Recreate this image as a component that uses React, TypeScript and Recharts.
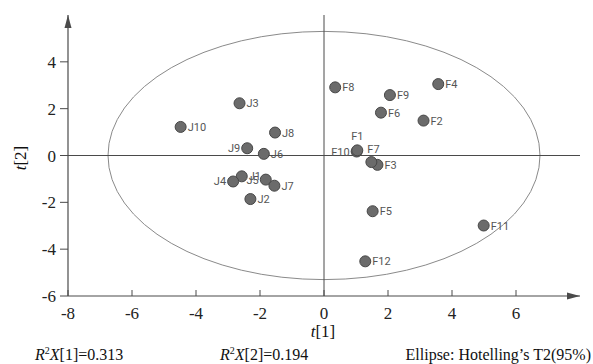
import React from 'react';
import {
    ScatterChart,
    Scatter,
    XAxis,
    YAxis,
    ReferenceLine,
    ReferenceArea,
    ReferenceDot,
    Customized,
} from 'recharts';

// score plot data
const sampleNames = ['J1', 'J2', 'J3', 'J4', 'J5', 'J6', 'J7', 'J8', 'J9', 'J10',
    'F10', 'F1', 'F2', 'F3', 'F4', 'F5', 'F6', 'F7', 'F8', 'F9', 'F11', 'F12'];
const t1Scores = [-2.57, -2.30, -2.64, -2.84, -1.82, -1.88, -1.55, -1.53, -2.40, -4.48,
    1.02, 1.04, 3.11, 1.67, 3.57, 1.52, 1.78, 1.48, 0.35, 2.06, 4.99, 1.29];
const t2Scores = [-0.89, -1.86, 2.23, -1.11, -1.03, 0.07, -1.29, 0.98, 0.31, 1.22,
    0.17, 0.22, 1.49, -0.40, 3.05, -2.38, 1.83, -0.28, 2.91, 2.58, -2.99, -4.52];

const xTicks = [-8, -6, -4, -2, 0, 2, 4, 6];
const yTicks = [-6, -4, -2, 0, 2, 4];
const xDomain = [-8, 8];
const yDomain = [-6, 6];

// Hotelling's T2 (95%) ellipse half-axes
const ellipseT1 = [-6.75, 6.75];
const ellipseT2 = [-5.3, 5.3];

const r2xValues = ['0.313', '0.194'];

// where each label sits relative to its dot (default: right)
const labelSide: Record<string, string> = {
    J4: 'left',
    J5: 'left',
    J9: 'left',
    F10: 'left',
    F1: 'top',
    F7: 'topright',
};

const serif = 'Liberation Serif, Times New Roman, serif';
const axisColor = '#4a4a4a';

const scores = sampleNames.map((name, i) => ({ name, t1: t1Scores[i], t2: t2Scores[i] }));

const ScoreDot = (props: any) => {
    const { cx, cy, payload } = props;
    const side = labelSide[payload.name] || 'right';
    let tx = cx + 7;
    let ty = cy + 4;
    let anchor: 'start' | 'middle' | 'end' = 'start';
    if (side === 'left') {
        tx = cx - 7;
        anchor = 'end';
    } else if (side === 'top') {
        tx = cx;
        ty = cy - 10;
        anchor = 'middle';
    } else if (side === 'topright') {
        tx = cx - 4;
        ty = cy - 9;
    }
    return (
        <g>
            <circle cx={cx} cy={cy} r={5.5} fill="#6b6b6b" stroke="#474747" strokeWidth={1} />
            <text x={tx} y={ty} textAnchor={anchor} fontFamily="Roboto, sans-serif" fontSize={11} fill="#555">
                {payload.name}
            </text>
        </g>
    );
};

// x ticks point inward (up), labels below
const XTick = (props: any) => {
    const { x, y, payload } = props;
    return (
        <g>
            <line x1={x} x2={x} y1={y} y2={y - 6} stroke={axisColor} strokeWidth={1} />
            <text x={x} y={y + 23} textAnchor="middle" style={{ fontFamily: serif }} fontSize={17} fill="#222">
                {payload.value}
            </text>
        </g>
    );
};

// y ticks point outward (left)
const YTick = (props: any) => {
    const { x, y, payload } = props;
    return (
        <g>
            <line x1={x} x2={x - 8} y1={y} y2={y} stroke={axisColor} strokeWidth={1} />
            <text x={x - 12} y={y + 6} textAnchor="end" style={{ fontFamily: serif }} fontSize={17} fill="#222">
                {payload.value}
            </text>
        </g>
    );
};

const Annotations = () => (
    <g style={{ fontFamily: serif }} fill="#111">
        <text x={323} y={337} textAnchor="middle" fontSize={17}>
            <tspan fontStyle="italic">t</tspan>[1]
        </text>
        <text x={20} y={158} textAnchor="middle" fontSize={17} dy="0.35em" transform="rotate(-90, 20, 158)">
            <tspan fontStyle="italic">t</tspan>[2]
        </text>
        <text x={35} y={360} fontSize={16}>
            <tspan fontStyle="italic">R</tspan>
            <tspan fontSize={10} dy={-6}>2</tspan>
            <tspan fontStyle="italic" dy={6}>X</tspan>[1]={r2xValues[0]}
        </text>
        <text x={220} y={360} fontSize={16}>
            <tspan fontStyle="italic">R</tspan>
            <tspan fontSize={10} dy={-6}>2</tspan>
            <tspan fontStyle="italic" dy={6}>X</tspan>[2]={r2xValues[1]}
        </text>
        <text x={591} y={360} fontSize={16} textAnchor="end">
            Ellipse: Hotelling’s T2(95%)
        </text>
    </g>
);

export default function App() {
    return (
        <div style={{ position: 'absolute', left: 0, top: 0, width: 593, height: 364, background: '#fff' }}>
            <ScatterChart width={593} height={364} margin={{ top: 15, right: 13, bottom: 38, left: 8 }}>
                <XAxis
                    type="number"
                    dataKey="t1"
                    domain={xDomain}
                    ticks={xTicks}
                    allowDataOverflow
                    height={30}
                    tickSize={0}
                    tickMargin={0}
                    tickLine={false}
                    tick={<XTick />}
                    axisLine={{ stroke: axisColor, strokeWidth: 1.2 }}
                />
                <YAxis
                    type="number"
                    dataKey="t2"
                    domain={yDomain}
                    ticks={yTicks}
                    allowDataOverflow
                    width={60}
                    tickSize={0}
                    tickMargin={0}
                    tickLine={false}
                    tick={<YTick />}
                    axisLine={{ stroke: axisColor, strokeWidth: 1.2 }}
                />
                <ReferenceArea
                    x1={ellipseT1[0]}
                    x2={ellipseT1[1]}
                    y1={ellipseT2[0]}
                    y2={ellipseT2[1]}
                    ifOverflow="visible"
                    shape={(p: any) => (
                        <ellipse
                            cx={p.x + p.width / 2}
                            cy={p.y + p.height / 2}
                            rx={Math.abs(p.width / 2)}
                            ry={Math.abs(p.height / 2)}
                            fill="none"
                            stroke="#8a8a8a"
                            strokeWidth={1}
                        />
                    )}
                />
                <ReferenceLine x={0} stroke={axisColor} strokeWidth={1} />
                <ReferenceLine y={0} stroke={axisColor} strokeWidth={1} />
                <ReferenceDot
                    x={xDomain[0]}
                    y={yDomain[1]}
                    ifOverflow="visible"
                    shape={(p: any) => (
                        <path d={`M${p.cx},${p.cy} L${p.cx - 3.5},${p.cy + 13} L${p.cx + 3.5},${p.cy + 13} Z`} fill={axisColor} />
                    )}
                />
                <ReferenceDot
                    x={xDomain[1]}
                    y={yDomain[0]}
                    ifOverflow="visible"
                    shape={(p: any) => (
                        <path d={`M${p.cx},${p.cy} L${p.cx - 13},${p.cy - 3.5} L${p.cx - 13},${p.cy + 3.5} Z`} fill={axisColor} />
                    )}
                />
                <Scatter data={scores} shape={<ScoreDot />} isAnimationActive={false} />
                <Customized component={Annotations} />
            </ScatterChart>
        </div>
    );
}
